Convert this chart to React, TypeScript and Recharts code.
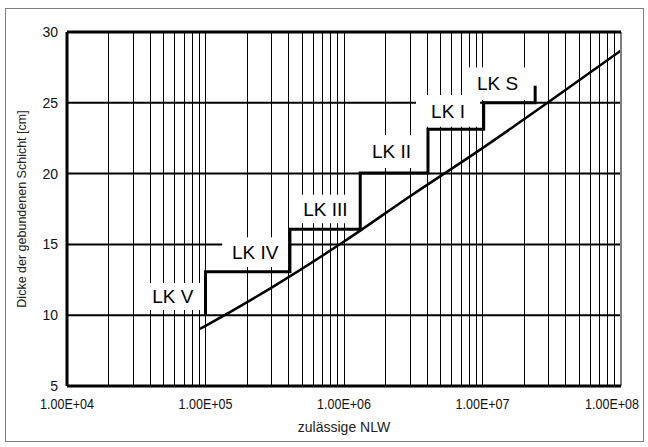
import { LineChart, Line, XAxis, YAxis, ReferenceLine, ReferenceArea, Label } from 'recharts'

// Stufenlinie (Belastungsklassen)
const stepX = [1e5, 1e5, 4.07e5, 4.07e5, 1.31e6, 1.31e6, 4.04e6, 4.04e6, 1.02e7, 1.02e7, 2.4e7, 2.4e7]
const stepY = [10, 13.07, 13.07, 16.07, 16.07, 20.05, 20.05, 23.13, 23.13, 25, 25, 26.2]

// Kurve
const curveX = [9.1e4, 1e5, 3e5, 1e6, 3e6, 1e7, 3e7, 1e8]
const curveY = [9.03, 9.25, 11.95, 15.2, 18.4, 21.8, 25.05, 28.7]

const xTicks = [1e4, 1e5, 1e6, 1e7, 1e8]
const yTicks = [5, 10, 15, 20, 25, 30]
const yGrid = [10, 15, 20, 25]
const decades = [1e4, 1e5, 1e6, 1e7]
const xGrid = decades.flatMap(d => [1, 2, 3, 4, 5, 6, 7, 8, 9].map(m => m * d)).filter(v => v > 1e4)

// Beschriftungsfelder
const classNames = ['LK V', 'LK IV', 'LK III', 'LK II', 'LK I', 'LK S']
const boxX1 = [3.37e4, 1.32e5, 4.1e5, 1.2e6, 3.31e6, 7.5e6]
const boxX2 = [1e5, 3.95e5, 1.31e6, 4.04e6, 9.6e6, 2.2e7]
const boxY1 = [10.37, 13.4, 16.5, 20.4, 23.3, 25.2]
const boxY2 = [12.27, 15.5, 18.5, 22.7, 25.55, 27.5]

const stepData = stepX.map((x, i) => ({ x, y: stepY[i] }))
const curveData = curveX.map((x, i) => ({ x, y: curveY[i] }))

const font = '"Liberation Sans", Arial, sans-serif'

const fmt = (v: number) => {
  const e = Math.round(Math.log10(v))
  return `1.00E+${String(e).padStart(2, '0')}`
}

function XTick(props: any) {
  const { x, y, payload } = props
  return (
    <text x={x} y={y + 21} textAnchor="middle" fontSize={14} fill="#111" fontFamily={font} textLength={54} lengthAdjust="spacingAndGlyphs">
      {fmt(payload.value)}
    </text>
  )
}

export default function App() {
  return (
    <div style={{ position: 'fixed', left: 0, top: 0, width: 648, height: 447, background: '#fff', fontFamily: font }}>
      <div style={{ position: 'absolute', left: 5, top: 8, width: 637, height: 432, border: '1px solid #808080' }} />
      <div style={{ position: 'absolute', left: 0, top: 0 }}>
        <LineChart width={648} height={447} margin={{ top: 32, right: 27, left: 0, bottom: 0 }}>
          <XAxis
            dataKey="x"
            type="number"
            scale="log"
            domain={[1e4, 1e8]}
            ticks={xTicks}
            allowDataOverflow
            tick={<XTick />}
            tickSize={0}
            axisLine={false}
            height={61}
          >
            <Label
              content={() => (
                <text x={344} y={432} textAnchor="middle" fontSize={14} fill="#222" fontFamily={font}>zulässige NLW</text>
              )}
            />
          </XAxis>
          <YAxis
            dataKey="y"
            type="number"
            domain={[5, 30]}
            ticks={yTicks}
            allowDataOverflow
            tick={{ fill: '#111', fontSize: 14, fontFamily: font }}
            tickSize={0}
            tickMargin={9}
            axisLine={false}
            width={67}
          >
            <Label
              content={() => (
                <text x={26} y={209} transform="rotate(-90 26 209)" textAnchor="middle" fontSize={12.5} fill="#222" fontFamily={font}>
                  Dicke der gebundenen Schicht [cm]
                </text>
              )}
            />
          </YAxis>
          {xGrid.map(v => (
            <ReferenceLine key={`vx${v}`} x={v} stroke="#000" strokeWidth={1} zIndex={20} shapeRendering="crispEdges" />
          ))}
          {yGrid.map(v => (
            <ReferenceLine key={`hy${v}`} y={v} stroke="#000" strokeWidth={2} zIndex={30} />
          ))}
          {classNames.map((name, i) => (
            <ReferenceArea
              key={name}
              x1={boxX1[i]}
              x2={boxX2[i]}
              y1={boxY1[i]}
              y2={boxY2[i]}
              fill="#fff"
              fillOpacity={1}
              stroke="none"
              zIndex={100}
              label={{ value: name, position: 'center', fontSize: 19, fill: '#000', fontFamily: font }}
            />
          ))}
          <ReferenceLine x={1e8} stroke="#808080" strokeWidth={2} zIndex={500} />
          <ReferenceLine y={30} stroke="#000" strokeWidth={3} zIndex={500} />
          <ReferenceLine y={5} stroke="#000" strokeWidth={3} zIndex={500} />
          <ReferenceLine x={1e4} stroke="#000" strokeWidth={3} zIndex={500} />
          <Line data={stepData} dataKey="y" type="linear" stroke="#000" strokeWidth={3} dot={false} activeDot={false} isAnimationActive={false} />
          <Line data={curveData} dataKey="y" type="monotone" stroke="#000" strokeWidth={2.5} dot={false} activeDot={false} isAnimationActive={false} />
        </LineChart>
      </div>
    </div>
  )
}
